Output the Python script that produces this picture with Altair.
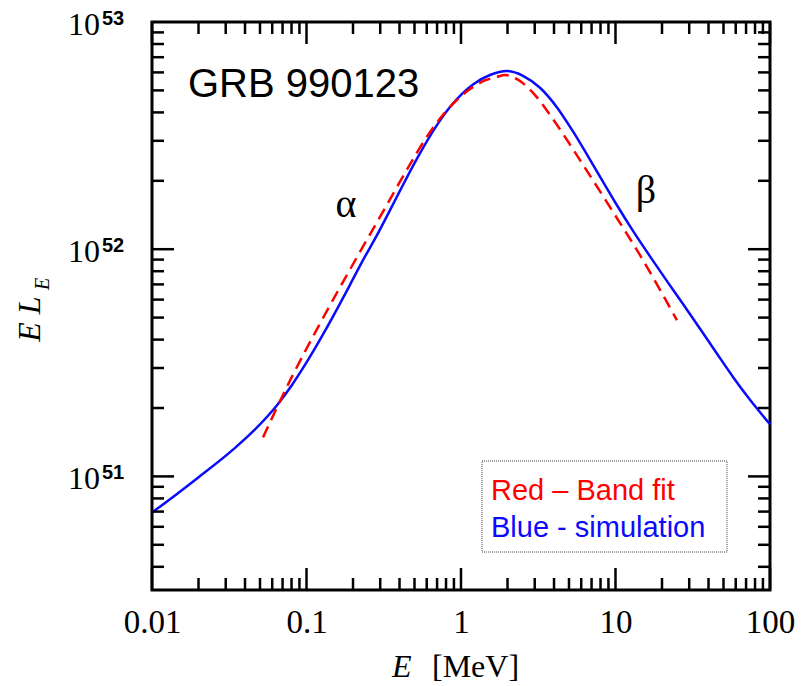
import altair as alt
import pandas as pd

# Simulated spectrum (blue): photon energy [MeV] and E*L_E [erg/s]
sim_E = [0.0100, 0.01409, 0.01985, 0.03344, 0.04642, 0.06443, 0.08055, 0.1007,
         0.1260, 0.1576, 0.1912, 0.2321, 0.2859, 0.3471, 0.4029, 0.5190,
         0.6787, 0.8488, 1.015, 1.196, 1.541, 1.985, 2.519, 3.245, 4.182,
         5.307, 6.539, 7.936, 10.22, 12.98, 16.72, 21.54, 27.35, 35.24,
         45.39, 57.61, 74.22, 100.0]
sim_L = [6.94e50, 8.25e50, 9.87e50, 1.311e51, 1.609e51, 2.057e51, 2.527e51, 3.198e51,
         4.142e51, 5.447e51, 6.97e51, 8.95e51, 1.153e52, 1.485e52, 1.810e52, 2.505e52,
         3.412e52, 4.223e52, 4.827e52, 5.310e52, 5.842e52, 6.083e52, 5.795e52, 5.135e52, 4.209e52,
         3.300e52, 2.610e52, 2.086e52, 1.561e52, 1.204e52, 9.30e51, 7.235e51, 5.737e51, 4.469e51,
         3.468e51, 2.741e51, 2.173e51, 1.696e51]

# Band function fit (red dashed)
band_E = [0.05229, 0.07818, 0.1223, 0.1912, 0.2990, 0.4676, 0.5848, 0.7313,
          0.9146, 1.144, 1.430, 1.710, 1.927, 2.409, 3.013, 4.059, 5.893,
          9.213, 14.41, 25.01]
band_L = [1.485e51, 2.640e51, 4.707e51, 8.14e51, 1.387e52, 2.361e52, 3.037e52, 3.758e52,
          4.456e52, 5.067e52, 5.529e52, 5.737e52, 5.842e52, 5.496e52, 4.768e52, 3.627e52, 2.467e52,
          1.531e52, 9.41e51, 4.866e51]

# Axis ticks
x_major = [0.01, 0.1, 1, 10, 100]
x_minor = [m * 10.0 ** k for k in range(-2, 2) for m in range(2, 10)]
y_major = [1e51, 1e52]
y_minor = [m * 1e50 for m in range(4, 10)] + [m * 1e51 for m in range(2, 10)] + [m * 1e52 for m in range(2, 10)]
y_label_vals = [1e51, 1e52, 1e53]
y_label_exps = ["51", "52", "53"]

W, H = 618, 568
MAJOR, MINOR = 22, 12
SERIF = "Liberation Serif"
SANS = "Liberation Sans"

xs = alt.Scale(type="log", domain=[0.01, 100], nice=False)
ys = alt.Scale(type="log", domain=[10 ** 50.5, 1e53], nice=False)
xaxis = alt.Axis(values=x_major, ticks=False, domain=False, grid=False, title=None,
                 labelExpr="datum.value < 1 ? format(datum.value, '.2~f') : format(datum.value, 'd')",
                 labelFont=SERIF, labelFontSize=33, labelPadding=16, labelColor="black",
                 labelFlush=False, labelOverlap=False, labelBound=False)


def X(field):
    return alt.X(field, type="quantitative", scale=xs, axis=xaxis)


def Y(field):
    return alt.Y(field, type="quantitative", scale=ys, axis=None)


sim = pd.DataFrame({"E": sim_E, "L": sim_L})
band = pd.DataFrame({"E": band_E, "L": band_L})
one = pd.DataFrame({"k": [0]})

sim_line = alt.Chart(sim).mark_line(color="#0a0aff", strokeWidth=2.5, interpolate="monotone").encode(
    x=X("E"), y=Y("L"))
band_line = alt.Chart(band).mark_line(color="#ff0000", strokeWidth=2.5, strokeDash=[12, 7],
                                      interpolate="monotone").encode(x=X("E"), y=Y("L"))

# Inward ticks on all four sides
xt_maj = pd.DataFrame({"v": x_major})
xt_min = pd.DataFrame({"v": x_minor})
yt_maj = pd.DataFrame({"v": y_major})
yt_min = pd.DataFrame({"v": y_minor})
tick_style = dict(color="black", strokeWidth=2.5)


def xticks(df, length):
    bottom = alt.Chart(df).mark_rule(**tick_style).encode(
        x=X("v"), y=alt.value(H), y2=alt.value(H - length))
    top = alt.Chart(df).mark_rule(**tick_style).encode(
        x=X("v"), y=alt.value(0), y2=alt.value(length))
    return [bottom, top]


def yticks(df, length):
    left = alt.Chart(df).mark_rule(**tick_style).encode(
        y=Y("v"), x=alt.value(0), x2=alt.value(length))
    right = alt.Chart(df).mark_rule(**tick_style).encode(
        y=Y("v"), x=alt.value(W), x2=alt.value(W - length))
    return [left, right]


ticks = xticks(xt_maj, MAJOR) + xticks(xt_min, MINOR) + yticks(yt_maj, MAJOR) + yticks(yt_min, MINOR)

# y tick labels as 10 with superscript exponent
ylab = pd.DataFrame({"v": y_label_vals, "base": ["10"] * 3, "exp": y_label_exps})
ylab_base = alt.Chart(ylab).mark_text(align="right", baseline="alphabetic", dy=13, font=SERIF,
                                      fontSize=32, color="black").encode(
    x=alt.value(-52), y=Y("v"), text="base:N")
ylab_exp = alt.Chart(ylab).mark_text(align="left", baseline="alphabetic", dy=3, font=SANS,
                                     fontSize=20, fontWeight="bold", color="black").encode(
    x=alt.value(-50), y=Y("v"), text="exp:N")


def label(text, x, y, **kw):
    return alt.Chart(one).mark_text(text=text, **kw).encode(x=alt.value(x), y=alt.value(y))


# Axis titles
xt_E = label("E", 240, 655, align="left", baseline="alphabetic", font=SERIF, fontSize=32,
             fontStyle="italic", color="black")
xt_unit = label("[MeV]", 280, 655, align="left", baseline="alphabetic", font=SERIF, fontSize=32,
                color="black")
yt_EL = label("E L", -112, 297, align="center", baseline="alphabetic", angle=270, font=SERIF,
              fontSize=32, fontStyle="italic", color="black")
yt_sub = label("E", -103, 262, align="center", baseline="alphabetic", angle=270, font=SERIF,
               fontSize=20, fontStyle="italic", color="black")

# Annotations
grb = label("GRB 990123", 36, 75, align="left", baseline="alphabetic", font=SANS, fontSize=40,
            color="black")
alpha = label("α", 194, 195, align="center", baseline="alphabetic", font=SERIF, fontSize=40,
              color="black")
beta = label("β", 494, 181, align="center", baseline="alphabetic", font=SERIF, fontSize=40,
             color="black")

# Key box
box = alt.Chart(one).mark_rect(fill="white", stroke="#444444", strokeWidth=1, strokeDash=[1, 1]).encode(
    x=alt.value(330), x2=alt.value(575), y=alt.value(439), y2=alt.value(530))
key_red = label("Red – Band fit", 339, 478, align="left", baseline="alphabetic", font=SANS,
                fontSize=29, color="#ff0000")
key_blue = label("Blue - simulation", 339, 515, align="left", baseline="alphabetic", font=SANS,
                 fontSize=29, color="#0a0aff")

chart = alt.layer(
    box, key_red, key_blue, sim_line, band_line, *ticks, ylab_base, ylab_exp,
    xt_E, xt_unit, yt_EL, yt_sub, grb, alpha, beta
).properties(
    width=W, height=H,
    padding={"left": 152, "top": 22, "right": 33, "bottom": 96},
    autosize=alt.AutoSizeParams(type="none"),
    background="white",
).configure_view(stroke="black", strokeWidth=3)

chart.save("out.html", embed_options={"renderer": "svg", "actions": False})
